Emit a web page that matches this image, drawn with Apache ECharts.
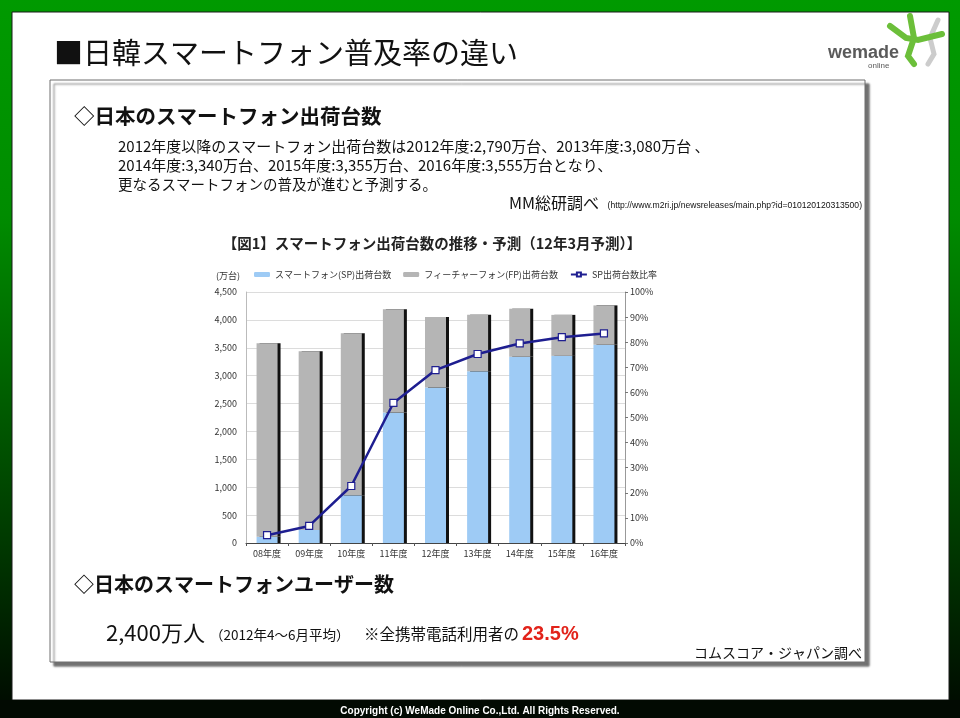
<!DOCTYPE html>
<html>
<head>
<meta charset="utf-8">
<title>日韓スマートフォン普及率の違い</title>
<script src="https://cdn.jsdelivr.net/npm/echarts@6/dist/echarts.min.js"></script>
<style>
  html, body { margin: 0; padding: 0; background: #000; }
  #main { width: 960px; height: 718px; }
</style>
</head>
<body>
<div id="main"></div>
<script>
// shipments, 万台
const categories = ['08年度', '09年度', '10年度', '11年度', '12年度', '13年度', '14年度', '15年度', '16年度'];
const spShipments = [110, 234, 855, 2340, 2790, 3080, 3340, 3355, 3555];
const fpShipments = [3470, 3205, 2905, 1850, 1260, 1010, 860, 735, 705];
const spRatio = [3.1, 6.8, 22.7, 55.8, 68.9, 75.3, 79.5, 82.0, 83.5];
const seriesNames = ['スマートフォン(SP)出荷台数', 'フィーチャーフォン(FP)出荷台数', 'SP出荷台数比率'];

const JP = '"Noto Sans CJK JP", "Noto Sans", sans-serif';

const chart = echarts.init(document.getElementById('main'));

const barShadow = {
  shadowColor: '#111',
  shadowOffsetX: 3,
  shadowOffsetY: 0,
  shadowBlur: 0
};

const option = {
  animation: false,
  textStyle: { fontFamily: JP },
  graphic: [
    // green slide background
    {
      type: 'rect', z: -10,
      shape: { x: 0, y: 0, width: 960, height: 718 },
      style: {
        fill: {
          type: 'linear', x: 0, y: 0, x2: 0, y2: 1,
          colorStops: [
            { offset: 0, color: '#009a00' },
            { offset: 0.3, color: '#008c00' },
            { offset: 0.75, color: '#003a00' },
            { offset: 1, color: '#000800' }
          ]
        }
      }
    },
    {
      type: 'rect', z: -9,
      shape: { x: 12, y: 12, width: 937, height: 688 },
      style: { fill: '#ffffff', stroke: '#1a1a1a', lineWidth: 1 }
    },
    {
      type: 'rect', z: -9,
      shape: { x: 0, y: 700, width: 960, height: 18 },
      style: { fill: '#020a02' }
    },
    {
      type: 'text', z: 1,
      style: {
        text: 'Copyright (c) WeMade Online Co.,Ltd. All Rights Reserved.',
        x: 480, y: 711, align: 'center', verticalAlign: 'middle',
        fill: '#ffffff', font: 'bold 10px "Liberation Sans", Arial, sans-serif'
      }
    },
    // page title
    {
      type: 'text', z: 1,
      style: {
        text: '■日韓スマートフォン普及率の違い',
        x: 54, y: 53, verticalAlign: 'middle',
        fill: '#111', font: '29px ' + JP
      }
    },
    // logo
    {
      type: 'text', z: 1,
      style: {
        text: 'wemade', x: 828, y: 53, verticalAlign: 'middle',
        fill: '#5a5a5a', font: 'bold 18px "Liberation Sans", Arial, sans-serif'
      }
    },
    {
      type: 'text', z: 1,
      style: {
        text: 'online', x: 868, y: 66, verticalAlign: 'middle',
        fill: '#5a5a5a', font: '8px "Liberation Sans", Arial, sans-serif'
      }
    },
    {
      type: 'polyline', z: 1,
      shape: { points: [[938, 20], [930, 38], [934, 54], [928, 64]] },
      style: { stroke: '#cccccc', lineWidth: 5, lineCap: 'round', fill: null }
    },
    {
      type: 'polyline', z: 1,
      shape: { points: [[890, 26], [906, 38], [918, 40], [942, 34]] },
      style: { stroke: '#6cbf3a', lineWidth: 6, lineCap: 'round', fill: null }
    },
    {
      type: 'polyline', z: 1,
      shape: { points: [[910, 16], [914, 38], [908, 56], [914, 64]] },
      style: { stroke: '#6cbf3a', lineWidth: 6, lineCap: 'round', fill: null }
    },
    // content box
    {
      type: 'rect', z: -5,
      shape: { x: 50, y: 80, width: 815, height: 582 },
      style: {
        fill: '#ffffff', stroke: '#6e6e6e', lineWidth: 1,
        shadowColor: 'rgba(0,0,0,0.55)', shadowOffsetX: 4, shadowOffsetY: 4, shadowBlur: 2
      }
    },
    {
      type: 'text', z: 1,
      style: {
        text: '◇日本のスマートフォン出荷台数',
        x: 74, y: 116, verticalAlign: 'middle',
        fill: '#111', font: 'bold 20.5px ' + JP
      }
    },
    {
      type: 'text', z: 1,
      style: {
        text: '2012年度以降のスマートフォン出荷台数は2012年度:2,790万台、2013年度:3,080万台 、',
        x: 118, y: 146, verticalAlign: 'middle',
        fill: '#111', font: '15px ' + JP
      }
    },
    {
      type: 'text', z: 1,
      style: {
        text: '2014年度:3,340万台、2015年度:3,355万台、2016年度:3,555万台となり、',
        x: 118, y: 165, verticalAlign: 'middle',
        fill: '#111', font: '15px ' + JP
      }
    },
    {
      type: 'text', z: 1,
      style: {
        text: '更なるスマートフォンの普及が進むと予測する。',
        x: 118, y: 184, verticalAlign: 'middle',
        fill: '#111', font: '14.5px ' + JP
      }
    },
    {
      type: 'text', z: 1,
      style: {
        text: 'MM総研調べ',
        x: 509, y: 203, verticalAlign: 'middle',
        fill: '#111', font: '16px ' + JP
      }
    },
    {
      type: 'text', z: 1,
      style: {
        text: '(http://www.m2ri.jp/newsreleases/main.php?id=010120120313500)',
        x: 862, y: 206, align: 'right', verticalAlign: 'middle',
        fill: '#111', font: '8.6px "Liberation Sans", Arial, sans-serif'
      }
    },
    // chart caption
    {
      type: 'text', z: 1,
      style: {
        text: '【図1】スマートフォン出荷台数の推移・予測（12年3月予測）】',
        x: 432, y: 243, align: 'center', verticalAlign: 'middle',
        fill: '#222', font: 'bold 14.5px ' + JP
      }
    },
    // bottom section
    {
      type: 'text', z: 1,
      style: {
        text: '◇日本のスマートフォンユーザー数',
        x: 74, y: 584, verticalAlign: 'middle',
        fill: '#111', font: 'bold 20px ' + JP
      }
    },
    {
      type: 'text', z: 1,
      style: {
        text: '2,400万人',
        x: 106, y: 633, verticalAlign: 'middle',
        fill: '#111', font: '22px ' + JP
      }
    },
    {
      type: 'text', z: 1,
      style: {
        text: '（2012年4～6月平均）',
        x: 210, y: 635, verticalAlign: 'middle',
        fill: '#111', font: '13.5px ' + JP
      }
    },
    {
      type: 'text', z: 1,
      style: {
        text: '※全携帯電話利用者の',
        x: 364, y: 634, verticalAlign: 'middle',
        fill: '#111', font: '15.5px ' + JP
      }
    },
    {
      type: 'text', z: 1,
      style: {
        text: '23.5%',
        x: 522, y: 634, verticalAlign: 'middle',
        fill: '#e2231a', font: 'bold 20px "Liberation Sans", Arial, sans-serif'
      }
    },
    {
      type: 'text', z: 1,
      style: {
        text: 'コムスコア・ジャパン調べ',
        x: 862, y: 653, align: 'right', verticalAlign: 'middle',
        fill: '#111', font: '14px ' + JP
      }
    }
  ],
  legend: {
    data: seriesNames,
    left: 249,
    top: 265,
    itemWidth: 16,
    itemHeight: 5,
    itemGap: 12,
    textStyle: { fontSize: 9, color: '#333', fontFamily: JP }
  },
  grid: {
    left: 246,
    right: 335,
    top: 292,
    bottom: 175
  },
  xAxis: {
    type: 'category',
    data: categories,
    axisLine: { lineStyle: { color: '#444', width: 1 } },
    axisTick: { show: true, length: 3, lineStyle: { color: '#555' } },
    axisLabel: { fontSize: 9, color: '#333', margin: 6 }
  },
  yAxis: [
    {
      type: 'value',
      min: 0,
      max: 4500,
      interval: 500,
      name: '(万台)',
      nameLocation: 'end',
      nameGap: 12,
      nameTextStyle: { fontSize: 9, color: '#333', align: 'right', padding: [0, 6, 0, 0] },
      axisLine: { show: true, lineStyle: { color: '#bbb' } },
      axisTick: { show: false },
      axisLabel: {
        fontSize: 9, color: '#333', margin: 9,
        formatter: v => v.toLocaleString('en-US')
      },
      splitLine: { show: true, lineStyle: { color: '#dcdcdc', width: 1 } }
    },
    {
      type: 'value',
      min: 0,
      max: 100,
      interval: 10,
      position: 'right',
      axisLine: { show: true, lineStyle: { color: '#999' } },
      axisTick: { show: true, length: 3, lineStyle: { color: '#777' } },
      axisLabel: { fontSize: 9, color: '#333', margin: 5, formatter: '{value}%' },
      splitLine: { show: false }
    }
  ],
  series: [
    {
      name: seriesNames[0],
      type: 'bar',
      stack: 'ship',
      barWidth: 21,
      data: spShipments,
      itemStyle: Object.assign({ color: '#9ecbf5' }, barShadow)
    },
    {
      name: seriesNames[1],
      type: 'bar',
      stack: 'ship',
      barWidth: 21,
      data: fpShipments,
      itemStyle: Object.assign({ color: '#b5b5b5' }, barShadow)
    },
    {
      name: seriesNames[2],
      type: 'line',
      yAxisIndex: 1,
      data: spRatio,
      symbol: 'rect',
      symbolSize: 7,
      z: 5,
      lineStyle: { color: '#1e1e90', width: 2.5 },
      itemStyle: { color: '#ffffff', borderColor: '#1e1e90', borderWidth: 1.2 }
    }
  ]
};

chart.setOption(option);
</script>
</body>
</html>
